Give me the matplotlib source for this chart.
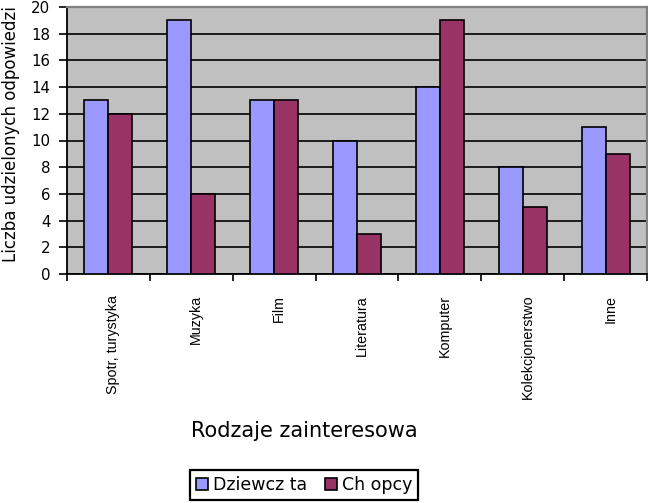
import matplotlib
matplotlib.use("Agg")
import matplotlib.pyplot as plt
from matplotlib.patches import Patch
import numpy as np

categories = ["Spotr, turystyka", "Muzyka", "Film", "Literatura", "Komputer",
              "Kolekcjonerstwo", "Inne"]
dziewczeta = [13, 19, 13, 10, 14, 8, 11]
chlopcy = [12, 6, 13, 3, 19, 5, 9]
series_names = ["Dziewcz ta", "Ch opcy"]
y_ticks = list(range(0, 21, 2))

plt.rcParams['font.family'] = ['DejaVu Sans']

W, H = 648, 503
fig = plt.figure(figsize=(W / 100, H / 100), dpi=100)
ax = fig.add_axes([67 / W, (H - 274) / H, 580 / W, 267 / H])

c_blue = "#9999ff"
c_mar = "#993366"
ax.set_facecolor("#c0c0c0")

x = np.arange(len(categories))
bw = 0.29
ax.bar(x - bw / 2, dziewczeta, width=bw, color=c_blue, edgecolor="black",
       linewidth=1.2, zorder=3)
ax.bar(x + bw / 2, chlopcy, width=bw, color=c_mar, edgecolor="black",
       linewidth=1.2, zorder=3)

ax.set_xlim(-0.5, len(categories) - 0.5)
ax.set_ylim(0, 20)
ax.set_yticks(y_ticks)
ax.set_yticklabels([str(v) for v in y_ticks], fontsize=10.8)
ax.yaxis.grid(True, color="black", linewidth=1.2, zorder=1)
ax.set_axisbelow(True)

ax.set_xticks(x + 0.06)
ax.set_xticklabels(categories, rotation=90, fontsize=10.3, va="top",
                   family=["Liberation Sans", "DejaVu Sans"])
ax.tick_params(axis="x", which="major", length=0, pad=15)
ax.set_xticks(np.arange(-0.5, len(categories) + 0.5, 1), minor=True)
ax.tick_params(axis="x", which="minor", length=5, width=1.2, color="black")
ax.tick_params(axis="y", length=6, width=1.2, pad=6)

for s in ["left", "bottom"]:
    ax.spines[s].set_color("black")
    ax.spines[s].set_linewidth(1.3)
for s in ["top", "right"]:
    ax.spines[s].set_color("#808080")
    ax.spines[s].set_linewidth(1.6)

fig.text(11 / W, 1 - 134 / H, "Liczba udzielonych odpowiedzi", rotation=90,
         ha="center", va="center", fontsize=12)
fig.text(304 / W, 1 - 431 / H, "Rodzaje zainteresowa", ha="center",
         va="center", fontsize=15)

handles = [Patch(facecolor=c_blue, edgecolor="black", linewidth=1.2),
           Patch(facecolor=c_mar, edgecolor="black", linewidth=1.2)]
leg = fig.legend(handles, series_names, loc="center",
                 bbox_to_anchor=(304 / W, 1 - 485 / H), ncol=2, fontsize=12.5,
                 frameon=True, fancybox=False, framealpha=1,
                 edgecolor="black", handlelength=0.7, handleheight=0.7,
                 handletextpad=0.3, columnspacing=1.0, borderpad=0.35,
                 borderaxespad=0)
leg.get_frame().set_linewidth(1.6)

fig.savefig("out.png", dpi=100)
